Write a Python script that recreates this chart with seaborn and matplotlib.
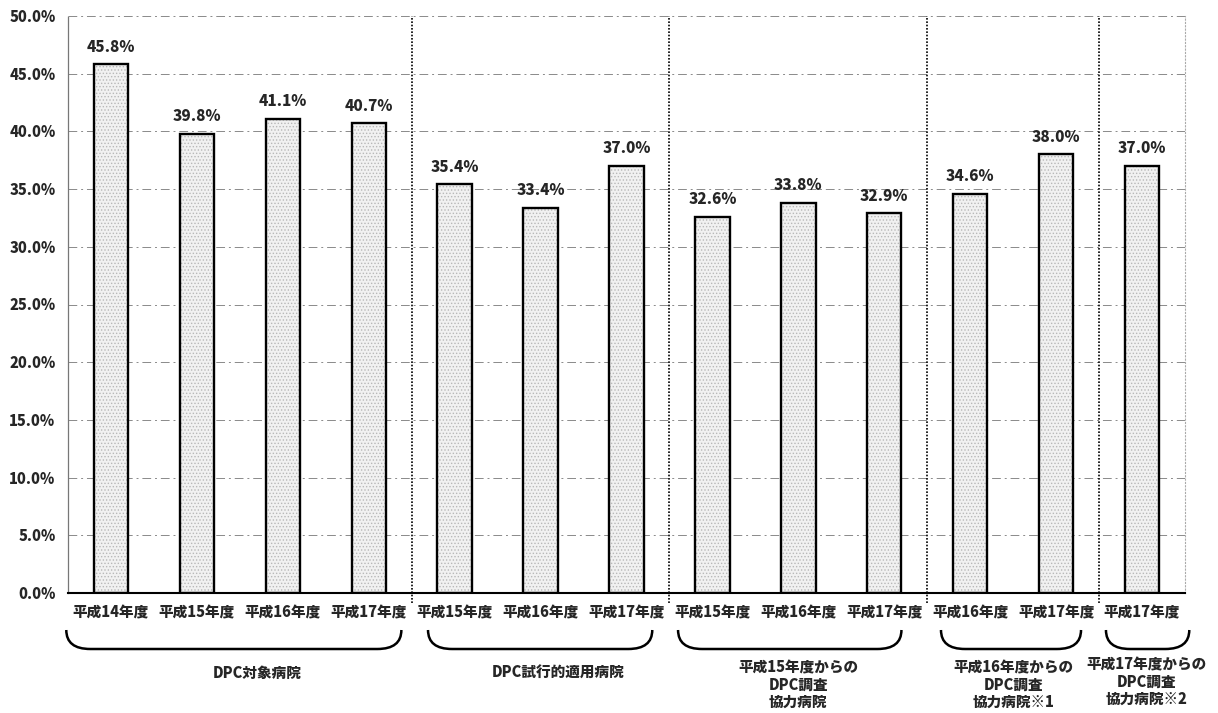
import matplotlib
matplotlib.use('Agg')
import matplotlib.pyplot as plt
import seaborn as sns
import pandas as pd
import numpy as np
from matplotlib.path import Path
from matplotlib.patches import PathPatch
from matplotlib.transforms import blended_transform_factory

# ---------------- data ----------------
group_names = ['DPC対象病院',
               'DPC試行的適用病院',
               '平成15年度からの\nDPC調査\n協力病院',
               '平成16年度からの\nDPC調査\n協力病院※1',
               '平成17年度からの\nDPC調査\n協力病院※2']
group_sizes = [4, 3, 3, 2, 1]
year_labels = ['平成14年度', '平成15年度', '平成16年度', '平成17年度',
               '平成15年度', '平成16年度', '平成17年度',
               '平成15年度', '平成16年度', '平成17年度',
               '平成16年度', '平成17年度',
               '平成17年度']
values = [45.8, 39.8, 41.1, 40.7,
          35.4, 33.4, 37.0,
          32.6, 33.8, 32.9,
          34.6, 38.0,
          37.0]
y_ticks = [0, 5, 10, 15, 20, 25, 30, 35, 40, 45, 50]

# ---------------- style ----------------
sns.set_style('white')
plt.rcParams['font.family'] = ['Noto Sans CJK JP', 'DejaVu Sans']
plt.rcParams['hatch.linewidth'] = 0.6
FW = 'heavy'

W, H = 1218, 713
fig = plt.figure(figsize=(W / 100, H / 100), dpi=100)
ax = fig.add_axes([68 / W, 1 - 593 / H, (1185 - 68) / W, (593 - 16) / H])

keys = [f'b{i}' for i in range(len(values))]
df = pd.DataFrame({'key': keys, 'value': values, 'year': year_labels})

# stipple-like fill
sns.barplot(data=df, x='key', y='value', order=keys, width=0.4,
            color='#f1f1f1', saturation=1, errorbar=None,
            hatch='.....', edgecolor='#b8b8b8', linewidth=0, ax=ax, zorder=2)
# black outline
sns.barplot(data=df, x='key', y='value', order=keys, width=0.4,
            color='black', fill=False, saturation=1, errorbar=None,
            linewidth=1.7, ax=ax, zorder=3)

ax.set_xlim(-0.5, len(values) - 0.5)
ax.set_ylim(0, 50)
ax.set_xlabel('')
ax.set_ylabel('')

# gridlines
for t in y_ticks[1:]:
    ax.axhline(t, color='#8a8a8a', lw=0.7, ls=(0, (9, 4, 2, 4)), zorder=1)

# spines
ax.spines['top'].set_visible(False)
ax.spines['left'].set_color('#777777')
ax.spines['left'].set_linewidth(0.9)
ax.spines['left'].set_linestyle((0, (2, 1)))
ax.spines['right'].set_color('#aaaaaa')
ax.spines['right'].set_linewidth(0.8)
ax.spines['right'].set_linestyle((0, (1, 2)))
ax.spines['bottom'].set_color('black')
ax.spines['bottom'].set_linewidth(1.5)
ax.spines['bottom'].set_zorder(4)

# ticks
ax.set_yticks(y_ticks)
ax.set_yticklabels([f'{t:.1f}%' for t in y_ticks], fontsize=10.5, fontweight=FW)
ax.set_xticks(range(len(values)))
ax.set_xticklabels(year_labels, fontsize=10.5, fontweight=FW)
ax.tick_params(axis='y', length=0, pad=9)
ax.tick_params(axis='x', length=0, pad=9)

# value labels
for i, v in enumerate(values):
    ax.annotate(f'{v:.1f}%', (i, v), xytext=(0, 7), textcoords='offset points',
                ha='center', va='bottom', fontsize=11, fontweight=FW, zorder=5)

# group separators
bounds = np.cumsum(group_sizes)[:-1] - 0.5
for b in bounds:
    ax.plot([b, b], [-0.9, 50], color='black', lw=1.2, ls=(0, (1, 1)),
            clip_on=False, zorder=4)

# braces and group labels
trans = blended_transform_factory(ax.transData, fig.transFigure)
brace_pads = [(0.52, 0.38), (0.31, 0.30), (0.40, 0.20), (0.34, 0.29), (0.42, 0.55)]
label_dx = [0.2, 0.2, 0.0, 0.0, 0.05]
label_top = [666, 666, 660, 660, 657]
y_top = 1 - 630 / H
y_bot = 1 - 649 / H
r = 0.28
start = 0
for gi, n in enumerate(group_sizes):
    first, last = start, start + n - 1
    xl = first - brace_pads[gi][0]
    xr = last + brace_pads[gi][1]
    verts = [(xl, y_top), (xl, y_bot), (xl + r, y_bot),
             (xr - r, y_bot),
             (xr, y_bot), (xr, y_top)]
    codes = [Path.MOVETO, Path.CURVE3, Path.CURVE3,
             Path.LINETO,
             Path.CURVE3, Path.CURVE3]
    patch = PathPatch(Path(verts, codes), transform=trans, fill=False,
                      edgecolor='black', lw=1.8, clip_on=False)
    fig.add_artist(patch)
    cx = (first + last) / 2 + label_dx[gi]
    fs = 10.5 if '\n' not in group_names[gi] else 10.5
    ax.text(cx, 1 - label_top[gi] / H, group_names[gi], transform=trans,
            ha='center', va='top', multialignment='center', linespacing=1.2,
            fontsize=fs, fontweight=FW)
    start += n

fig.savefig('out.png', dpi=100)
